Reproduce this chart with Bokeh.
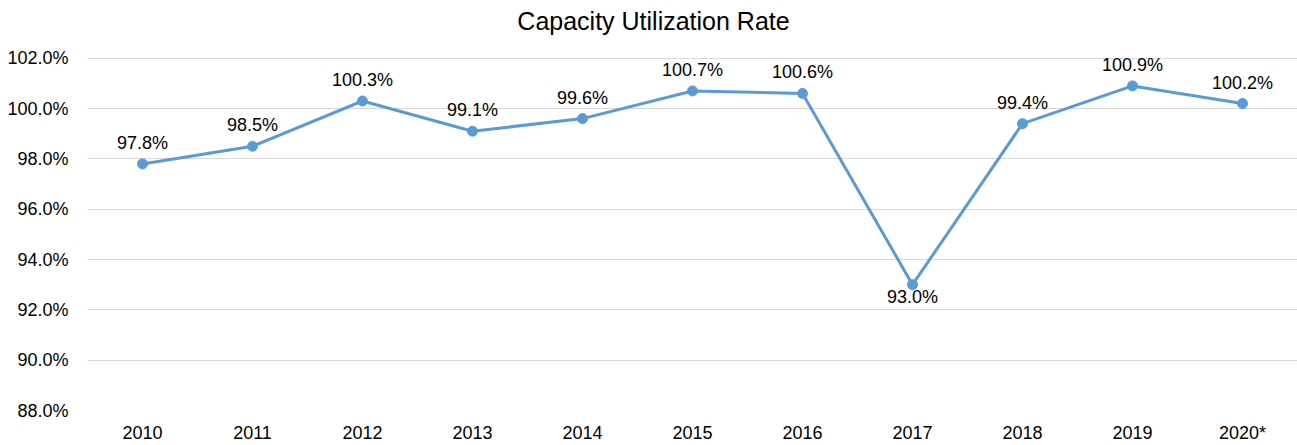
from bokeh.plotting import figure
from bokeh.models import ColumnDataSource, LabelSet, Label, Range1d, FixedTicker, CustomJSTickFormatter
from bokeh.embed import file_html
from bokeh.resources import INLINE
from bokeh.core.properties import value

years = ["2010", "2011", "2012", "2013", "2014", "2015", "2016", "2017", "2018", "2019", "2020*"]
rates = [97.8, 98.5, 100.3, 99.1, 99.6, 100.7, 100.6, 93.0, 99.4, 100.9, 100.2]
labels = ["97.8%", "98.5%", "100.3%", "99.1%", "99.6%", "100.7%", "100.6%", "93.0%", "99.4%", "100.9%", "100.2%"]
y_ticks = [88, 90, 92, 94, 96, 98, 100, 102]
title_text = "Capacity Utilization Rate"

FONT = "Liberation Sans"
COLOR = "#5B9BD5"

# frame spans the full height above the x labels; axis min 88 at bottom, 102 sits 58px below the top
FRAME_H = 412
Y0, Y1 = 88, 102
top_val = Y1 + 58 * (Y1 - Y0) / (FRAME_H - 58)

p = figure(x_range=years, y_range=Range1d(Y0, top_val), width=1297, height=445,
           output_backend="svg", toolbar_location=None,
           min_border_left=87, min_border_right=0, min_border_top=0, min_border_bottom=33)
p.outline_line_color = None
p.background_fill_color = "white"
p.border_fill_color = "white"

src = ColumnDataSource(dict(x=years, y=rates, lab=labels))
p.line("x", "y", source=src, line_color=COLOR, line_width=3)
p.scatter("x", "y", source=src, size=10, fill_color=COLOR, line_color=COLOR)

up_idx = [i for i, v in enumerate(rates) if v > 95]
dn_idx = [i for i, v in enumerate(rates) if v <= 95]
src_up = ColumnDataSource(dict(x=[years[i] for i in up_idx], y=[rates[i] for i in up_idx],
                               lab=[labels[i] for i in up_idx]))
src_dn = ColumnDataSource(dict(x=[years[i] for i in dn_idx], y=[rates[i] for i in dn_idx],
                               lab=[labels[i] for i in dn_idx]))
p.add_layout(LabelSet(x="x", y="y", text="lab", source=src_up, text_align="center",
                      text_baseline="bottom", y_offset=11, text_font=value(FONT),
                      text_font_size="18px", text_color="#000000"))
p.add_layout(LabelSet(x="x", y="y", text="lab", source=src_dn, text_align="center",
                      text_baseline="top", y_offset=-2, text_font=value(FONT),
                      text_font_size="18px", text_color="#000000"))

p.add_layout(Label(x=566, y=FRAME_H - 22, x_units="screen", y_units="screen", text=title_text,
                   text_align="center", text_baseline="middle", text_font=FONT,
                   text_font_size="25px", text_color="#000000"))

p.yaxis.ticker = FixedTicker(ticks=y_ticks)
p.yaxis.formatter = CustomJSTickFormatter(code="return tick.toFixed(1) + '%';")
p.yaxis.axis_line_color = None
p.yaxis.major_tick_line_color = None
p.yaxis.minor_tick_line_color = None
p.yaxis.major_label_standoff = 13
p.yaxis.major_label_text_font = FONT
p.yaxis.major_label_text_font_size = "18px"
p.yaxis.major_label_text_color = "#000000"

p.xaxis.axis_line_color = None
p.xaxis.major_tick_line_color = None
p.xaxis.minor_tick_line_color = None
p.xaxis.major_label_standoff = 6
p.xaxis.major_label_text_font = FONT
p.xaxis.major_label_text_font_size = "18px"
p.xaxis.major_label_text_color = "#000000"

p.xgrid.grid_line_color = None
p.ygrid.grid_line_color = "#D9D9D9"
p.ygrid.grid_line_width = 1
p.ygrid.ticker = FixedTicker(ticks=y_ticks)

open("out.html", "w").write(file_html(p, INLINE))
